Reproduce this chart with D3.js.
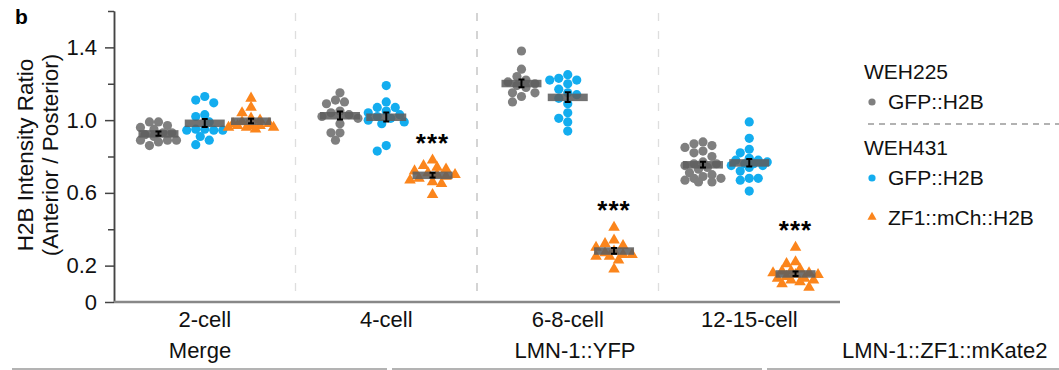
<!DOCTYPE html>
<html>
<head>
<meta charset="utf-8">
<script src="https://cdn.jsdelivr.net/npm/d3@7"></script>
<style>
  body { margin: 0; background: #fff; }
  svg { font-family: "Liberation Sans", Arial, sans-serif; }
  .axis path, .axis line { stroke: #444; stroke-width: 1.5; }
  .axis text { font-size: 22px; fill: #111; }
</style>
</head>
<body>
<div id="chart"></div>
<script>

// stages on the x axis
const stages = ["2-cell", "4-cell", "6-8-cell", "12-15-cell"];

// series (strain / reporter)
const seriesKeys = ["WEH225 GFP::H2B", "WEH431 GFP::H2B", "WEH431 ZF1::mCh::H2B"];

// anterior / posterior ratios per embryo, one list per stage
const weh225Gfp = [
    [0.99, 0.99, 0.97, 0.96, 0.95, 0.93, 0.93, 0.92, 0.91, 0.89, 0.89, 0.89, 0.88, 0.86],
    [1.15, 1.11, 1.10, 1.09, 1.05, 1.04, 1.03, 1.02, 1.01, 0.98, 0.93, 0.93, 0.89],
    [1.38, 1.28, 1.24, 1.22, 1.21, 1.20, 1.19, 1.18, 1.15, 1.15, 1.13, 1.10],
    [0.88, 0.87, 0.86, 0.85, 0.83, 0.82, 0.80, 0.77, 0.76, 0.76, 0.75, 0.74, 0.73, 0.71, 0.70, 0.69, 0.68, 0.68, 0.67, 0.66, 0.66]
];
const weh431Gfp = [
    [1.13, 1.11, 1.095, 1.03, 1.02, 0.99, 0.95, 0.95, 0.945, 0.945, 0.945, 0.91, 0.89, 0.865],
    [1.19, 1.10, 1.07, 1.07, 1.05, 1.04, 1.03, 1.02, 1.01, 1.00, 0.99, 0.98, 0.86, 0.83],
    [1.25, 1.23, 1.22, 1.22, 1.20, 1.17, 1.15, 1.14, 1.12, 1.09, 1.04, 1.01, 0.99, 0.94],
    [0.99, 0.90, 0.84, 0.82, 0.79, 0.78, 0.78, 0.77, 0.76, 0.76, 0.75, 0.75, 0.74, 0.72, 0.68, 0.68, 0.67, 0.61]
];
const weh431Zf1 = [
    [1.12, 1.07, 1.04, 1.01, 1.00, 0.99, 0.98, 0.98, 0.97, 0.97, 0.97, 0.96, 0.96, 0.96, 0.95],
    [0.78, 0.75, 0.74, 0.73, 0.72, 0.71, 0.70, 0.70, 0.69, 0.68, 0.67, 0.66, 0.65, 0.59],
    [0.41, 0.34, 0.32, 0.31, 0.30, 0.28, 0.27, 0.26, 0.26, 0.25, 0.25, 0.23, 0.18],
    [0.30, 0.22, 0.21, 0.18, 0.17, 0.17, 0.16, 0.16, 0.15, 0.15, 0.14, 0.13, 0.13, 0.12, 0.12, 0.11, 0.10, 0.08]
];

// significance vs WEH431 GFP::H2B, per stage
const significance = ["", "***", "***", "***"];

// y ticks
const yMajorTicks = [0, 0.2, 0.6, 1.0, 1.4];
const yMinorTicks = [0.4, 0.8, 1.2, 1.6];

// panel captions under the stage labels
const panelLabels = ["Merge", "LMN-1::YFP", "LMN-1::ZF1::mKate2"];

// legend groups
const legendGroups = [
    {title: "WEH225", items: ["GFP::H2B"]},
    {title: "WEH431", items: ["GFP::H2B", "ZF1::mCh::H2B"]}
];

const colors = ["#7f7f7f", "#13adef", "#fb851c"];
const seriesValues = [weh225Gfp, weh431Gfp, weh431Zf1];

const width = 1059, height = 370;
const margin = {top: 11, left: 114, bottom: 68, right: 219};

const svg = d3.select("#chart").append("svg")
    .attr("width", width)
    .attr("height", height);

// scales
const x = d3.scaleBand()
    .domain(stages)
    .range([margin.left, 840]);

const xInner = d3.scalePoint()
    .domain(seriesKeys)
    .range([x.bandwidth() * 0.245, x.bandwidth() * 0.755]);

const y = d3.scaleLinear()
    .domain([0, 1.6])
    .range([height - margin.bottom, margin.top]);

// panel letter
svg.append("text")
    .attr("x", 15).attr("y", 24)
    .attr("font-size", 21).attr("font-weight", "bold")
    .text("b");

// dashed separators between stages
stages.slice(1).forEach((s, i) => {
    svg.append("line")
        .attr("x1", x(s)).attr("x2", x(s))
        .attr("y1", 13).attr("y2", y(0))
        .attr("stroke", i === 1 ? "#bdbdbd" : "#dedede")
        .attr("stroke-width", 1.3)
        .attr("stroke-dasharray", "8,10");
});

// y axis
svg.append("g")
    .attr("class", "axis")
    .attr("transform", "translate(" + margin.left + ",0)")
    .call(d3.axisLeft(y).tickValues(yMinorTicks).tickSize(6).tickSizeOuter(0).tickFormat(""));

svg.append("g")
    .attr("class", "axis")
    .attr("transform", "translate(" + margin.left + ",0)")
    .call(d3.axisLeft(y).tickValues(yMajorTicks).tickSize(9).tickSizeOuter(0).tickPadding(8)
        .tickFormat(d => d === 0 ? "0" : d3.format(".1f")(d)));

// y title
svg.append("g")
    .attr("transform", "translate(33,155) rotate(-90)")
    .selectAll("text")
    .data(["H2B Intensity Ratio", "(Anterior / Posterior)"])
    .join("text")
    .attr("y", (d, i) => i * 25)
    .attr("text-anchor", "middle")
    .attr("font-size", 22.5)
    .attr("fill", "#111")
    .text(d => d);

// x axis line + stage labels
svg.append("line")
    .attr("x1", margin.left).attr("x2", x.range()[1])
    .attr("y1", y(0)).attr("y2", y(0))
    .attr("stroke", "#888").attr("stroke-width", 2.5);

svg.selectAll(".stage-label")
    .data(stages)
    .join("text")
    .attr("class", "stage-label")
    .attr("x", d => x(d) + x.bandwidth() / 2)
    .attr("y", 327)
    .attr("text-anchor", "middle")
    .attr("font-size", 22)
    .attr("fill", "#111")
    .text(d => d);

// panel captions with underlines
const panelLayout = [
    {cx: 200, x1: 12, x2: 387, anchor: "middle"},
    {cx: 575, x1: 392, x2: 762, anchor: "middle"},
    {cx: 842, x1: 767, x2: 1059, anchor: "start"}
];
panelLabels.forEach((p, i) => {
    let l = panelLayout[i];
    svg.append("text")
        .attr("x", l.cx).attr("y", 358)
        .attr("text-anchor", l.anchor)
        .attr("font-size", 22).attr("fill", "#111")
        .text(p);
    svg.append("line")
        .attr("x1", l.x1).attr("x2", l.x2)
        .attr("y1", 369).attr("y2", 369)
        .attr("stroke", "#9a9a9a").attr("stroke-width", 1.5);
});

// beeswarm: shift each point sideways until it clears the others,
// but keep it inside the bar width (take the least crowded slot if all overlap)
function swarm(values, diameter, step, maxOff) {
    let placed = [];
    let order = values.map((v, i) => ({v: v, i: i})).sort((a, b) => b.v - a.v);
    let offsets = new Array(values.length);
    let nSlots = Math.floor(maxOff / step);
    order.forEach(p => {
        let py = y(p.v);
        let best = 0, bestDist = -1;
        for (let k = 0; k <= nSlots * 2; k++) {
            let dx = (k % 2 === 0 ? 1 : -1) * Math.ceil(k / 2) * step;
            let dmin = d3.min(placed, q => Math.hypot(q.dx - dx, q.py - py));
            if (dmin === undefined) dmin = Infinity;
            if (dmin >= diameter) { best = dx; bestDist = dmin; break; }
            if (dmin > bestDist) { best = dx; bestDist = dmin; }
        }
        placed.push({dx: best, py: py});
        offsets[p.i] = best;
    });
    return offsets;
}

const triangle = d3.symbol().type(d3.symbolTriangle);

stages.forEach((stage, si) => {
    seriesKeys.forEach((key, ki) => {
        let vals = seriesValues[ki][si];
        let cx = x(stage) + xInner(key);
        let mean = d3.mean(vals);
        let sem = d3.deviation(vals) / Math.sqrt(vals.length);
        let g = svg.append("g");

        // points
        let offs = swarm(vals, 8.2, 4.5, ki === 2 ? 26 : 21);
        if (ki < 2) {
            g.selectAll("circle")
                .data(vals)
                .join("circle")
                .attr("cx", (d, i) => cx + offs[i])
                .attr("cy", d => y(d))
                .attr("r", 4.6)
                .attr("fill", colors[ki]);
        } else {
            g.selectAll("path")
                .data(vals)
                .join("path")
                .attr("d", triangle.size(58))
                .attr("transform", (d, i) => "translate(" + (cx + offs[i]) + "," + y(d) + ")")
                .attr("fill", colors[ki]);
        }

        // mean bar
        g.append("rect")
            .attr("x", cx - 20).attr("width", 40)
            .attr("y", y(mean) - 3.5).attr("height", 7.5)
            .attr("fill", "#5e5e5e").attr("opacity", 0.88);

        // SEM error bar
        g.append("path")
            .attr("d", "M" + (cx - 3) + "," + y(mean + sem) + "h6M" + cx + "," + y(mean + sem)
                + "V" + y(mean - sem) + "M" + (cx - 3) + "," + y(mean - sem) + "h6")
            .attr("stroke", "#000").attr("stroke-width", 2).attr("fill", "none");

        if (ki === 2 && significance[si]) {
            g.append("text")
                .attr("x", cx).attr("y", y(d3.max(vals)) - 8)
                .attr("text-anchor", "middle")
                .attr("font-size", 26).attr("font-weight", "bold")
                .attr("letter-spacing", 1)
                .text(significance[si]);
        }
    });
});

// legend
let ly = 79;
const legend = svg.append("g");
let idx = 0;
legendGroups.forEach((grp, gi) => {
    if (gi > 0) {
        legend.append("line")
            .attr("x1", 868).attr("x2", width)
            .attr("y1", 124).attr("y2", 124)
            .attr("stroke", "#999").attr("stroke-width", 1.3)
            .attr("stroke-dasharray", "6,5");
        ly = 155;
    }
    legend.append("text")
        .attr("x", 864).attr("y", ly)
        .attr("font-size", 21).attr("fill", "#111")
        .text(grp.title);
    grp.items.forEach((item, ii) => {
        ly += ii === 0 ? 30 : 40;
        if (idx < 2) {
            legend.append("circle")
                .attr("cx", 872).attr("cy", ly - 7).attr("r", 3.6)
                .attr("fill", colors[idx]);
        } else {
            legend.append("path")
                .attr("d", triangle.size(36))
                .attr("transform", "translate(872," + (ly - 8) + ")")
                .attr("fill", colors[idx]);
        }
        legend.append("text")
            .attr("x", 888).attr("y", ly)
            .attr("font-size", 21).attr("fill", "#111")
            .text(item);
        idx++;
    });
});

</script>
</body>
</html>
